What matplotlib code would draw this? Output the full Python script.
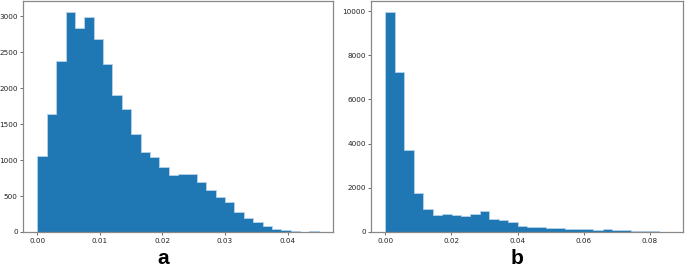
import numpy as np
import matplotlib.pyplot as plt

BLUE = '#1f77b4'
EDGE = '#b9d3ea'

# panel a: 30 bins of width 0.0015 starting at 0
a_edges = np.linspace(0, 0.045, 31)
a_counts = [1050, 1648, 2384, 3060, 2838, 2991, 2685, 2333, 1903, 1713,
            1361, 1116, 1046, 907, 792, 801, 801, 694, 588, 481,
            421, 282, 190, 144, 79, 42, 23, 14, 5, 14]

# panel b: 30 bins up to ~0.0858
b_edges = np.linspace(0, 0.0858, 31)
b_counts = [9960, 7229, 3720, 1777, 1024, 783, 828, 783, 738, 828,
            949, 572, 527, 467, 286, 241, 241, 196, 166, 136,
            136, 136, 105, 136, 90, 75, 45, 30, 30, 15]

a_xticks = [0.00, 0.01, 0.02, 0.03, 0.04]
a_yticks = [0, 500, 1000, 1500, 2000, 2500, 3000]
b_xticks = [0.00, 0.02, 0.04, 0.06, 0.08]
b_yticks = [0, 2000, 4000, 6000, 8000, 10000]

fig = plt.figure(figsize=(6.85, 2.66), dpi=100)
ax_a = fig.add_axes([0.034, 0.128, 0.452, 0.868])
ax_b = fig.add_axes([0.542, 0.128, 0.455, 0.868])


def draw_hist(ax, edges, counts, xticks, yticks):
    centers = (edges[:-1] + edges[1:]) / 2
    ax.hist(centers, bins=edges, weights=counts, histtype='stepfilled',
            facecolor=BLUE, edgecolor=EDGE, linewidth=0.6)
    ax.set_xticks(xticks)
    ax.set_xticklabels([f'{t:.2f}' for t in xticks])
    ax.set_yticks(yticks)
    ax.tick_params(labelsize=5.2, length=2.5, width=0.6, color='#555555',
                   labelcolor='#222222', pad=1.5)
    for s in ax.spines.values():
        s.set_color('#888888')
        s.set_linewidth(0.9)


draw_hist(ax_a, a_edges, a_counts, a_xticks, a_yticks)
draw_hist(ax_b, b_edges, b_counts, b_xticks, b_yticks)

fig.text(0.238, 0.03, 'a', ha='center', va='center', fontsize=15,
         fontweight='bold', family=['Liberation Sans', 'DejaVu Sans'])
fig.text(0.755, 0.03, 'b', ha='center', va='center', fontsize=15,
         fontweight='bold', family=['Liberation Sans', 'DejaVu Sans'])

fig.savefig('out.png', dpi=100)
